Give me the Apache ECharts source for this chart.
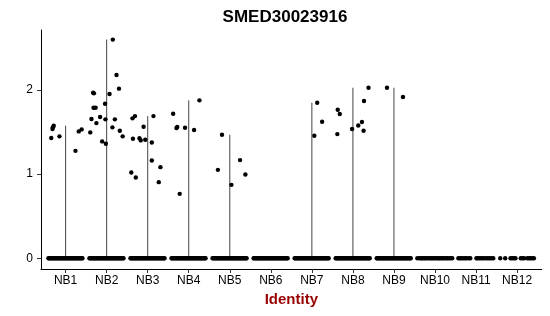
<!DOCTYPE html>
<html>
<head>
<meta charset="utf-8">
<script src="https://cdn.jsdelivr.net/npm/echarts@6/dist/echarts.min.js"></script>
<style>html,body{margin:0;padding:0;background:#fff}#c{width:550px;height:316px}</style>
</head>
<body>
<div id="c"></div>
<script>
const chartTitle = 'SMED30023916';
const xAxisTitle = 'Identity';
const categories = ['NB1','NB2','NB3','NB4','NB5','NB6','NB7','NB8','NB9','NB10','NB11','NB12'];
const yTicks = [0, 1, 2];

// non-zero expression values and their horizontal jitter (in category units) per group
const exprNB1 = [1.43, 1.536, 1.556, 1.575, 1.449, 1.277, 1.508, 1.532];
const jitNB1  = [-0.35, -0.32, -0.31, -0.29, -0.15, 0.24, 0.32, 0.39];
const exprNB2 = [1.496, 1.655, 1.968, 1.96, 1.79, 1.79, 1.607, 1.679, 1.389, 1.837, 1.651, 1.361, 1.952, 1.556, 2.599, 1.651, 2.179, 2.016, 1.516, 1.449];
const jitNB2  = [-0.40, -0.37, -0.33, -0.31, -0.32, -0.27, -0.25, -0.16, -0.11, -0.04, -0.03, -0.02, 0.07, 0.14, 0.15, 0.20, 0.24, 0.30, 0.32, 0.39];
const exprNB3 = [1.02, 1.663, 1.42, 1.69, 0.96, 1.428, 1.401, 1.563, 1.409, 1.377, 1.69, 1.163, 1.083, 0.905];
const jitNB3  = [-0.40, -0.37, -0.36, -0.31, -0.29, -0.20, -0.17, -0.10, -0.06, 0.10, 0.14, 0.10, 0.31, 0.27];
const exprNB4 = [1.718, 1.548, 1.56, 0.766, 1.552, 1.524, 1.877];
const jitNB4  = [-0.38, -0.30, -0.28, -0.22, -0.09, 0.13, 0.26];
const exprNB5 = [1.468, 1.051, 0.873, 1.167, 0.996];
const jitNB5  = [-0.19, -0.29, 0.04, 0.25, 0.38];
const exprNB6 = [];
const jitNB6  = [];
const exprNB7 = [1.456, 1.849, 1.623];
const jitNB7  = [0.06, 0.13, 0.25];
const exprNB8 = [1.476, 1.766, 1.714, 1.536, 1.579, 1.619, 1.516, 1.869, 2.027];
const jitNB8  = [-0.38, -0.37, -0.32, -0.02, 0.13, 0.22, 0.26, 0.27, 0.38];
const exprNB9 = [2.027, 1.917];
const jitNB9  = [-0.17, 0.22];
const exprNB10 = [];
const jitNB10  = [];
const exprNB11 = [];
const jitNB11  = [];
const exprNB12 = [];
const jitNB12  = [];

// jitter positions of the zero-valued cells per group
const zeroDense = [-0.42,-0.40,-0.38,-0.355,-0.33,-0.31,-0.285,-0.26,-0.24,-0.215,-0.19,-0.17,-0.145,-0.12,-0.10,-0.075,-0.05,-0.03,-0.005,0.02,0.04,0.065,0.09,0.11,0.135,0.16,0.18,0.205,0.23,0.25,0.275,0.30,0.32,0.345,0.37,0.39,0.41];
const zeroNB10 = [-0.43,-0.38,-0.34,-0.31,-0.27,-0.24,-0.20,-0.16,-0.12,-0.09,-0.05,-0.02,0.02,0.06,0.09,0.12,0.16,0.19,0.23,0.27,0.30,0.34,0.38,0.42];
const zeroNB11 = [-0.43,-0.39,-0.35,-0.31,-0.27,-0.23,-0.18,-0.14,0.01,0.04,0.08,0.12,0.16,0.20,0.25,0.29,0.33,0.37,0.42];
const zeroNB12 = [-0.41,-0.29,-0.16,-0.12,-0.08,-0.04,0.09,0.13,0.17,0.25,0.29,0.33,0.37,0.41];

const exprGroups = [exprNB1,exprNB2,exprNB3,exprNB4,exprNB5,exprNB6,exprNB7,exprNB8,exprNB9,exprNB10,exprNB11,exprNB12];
const jitGroups  = [jitNB1,jitNB2,jitNB3,jitNB4,jitNB5,jitNB6,jitNB7,jitNB8,jitNB9,jitNB10,jitNB11,jitNB12];
const zeroGroups = [zeroDense,zeroDense,zeroDense,zeroDense,zeroDense,zeroDense,zeroDense,zeroDense,zeroDense,zeroNB10,zeroNB11,zeroNB12];

const points = [];
const violins = [];
categories.forEach((c, i) => {
  const pos = i + 1;
  zeroGroups[i].forEach(j => points.push([pos + j, 0]));
  exprGroups[i].forEach((v, k) => points.push([pos + jitGroups[i][k], v]));
  if (exprGroups[i].length) violins.push([pos, Math.max.apply(null, exprGroups[i])]);
});
const catPos = categories.map((c, i) => i + 1);

const chart = echarts.init(document.getElementById('c'), null, {renderer: 'canvas'});
chart.setOption({
  animation: false,
  backgroundColor: '#ffffff',
  title: {
    text: chartTitle, left: 280, top: 4, textAlign: 'center',
    textStyle: {fontFamily: 'Liberation Sans, Arial', fontWeight: 'bold', fontSize: 17, color: '#000'}
  },
  grid: {left: 41, right: 8.3, top: 30, bottom: 47, containLabel: false},
  xAxis: {
    type: 'value', min: 0.4, max: 12.6,
    name: xAxisTitle, nameLocation: 'middle', nameGap: 20,
    nameTextStyle: {fontFamily: 'Liberation Sans, Arial', fontWeight: 'bold', fontSize: 15, color: '#990000'},
    axisLine: {show: true, onZero: false, lineStyle: {color: '#000', width: 1}},
    axisTick: {show: true, length: 4, customValues: catPos, lineStyle: {color: '#333'}},
    axisLabel: {customValues: catPos, margin: 6, fontFamily: 'Liberation Sans, Arial', fontSize: 12, color: '#000',
      formatter: v => categories[Math.round(v) - 1] || ''},
    splitLine: {show: false}
  },
  yAxis: {
    type: 'value', min: -0.127, max: 2.713,
    axisLine: {show: true, onZero: false, lineStyle: {color: '#000', width: 1}},
    axisTick: {show: true, length: 4, customValues: yTicks, lineStyle: {color: '#333'}},
    axisLabel: {customValues: yTicks, margin: 8, fontFamily: 'Liberation Sans, Arial', fontSize: 12, color: '#000'},
    splitLine: {show: false}
  },
  series: [
    {
      type: 'custom',
      data: violins,
      renderItem: (params, api) => {
        const p0 = api.coord([api.value(0), 0]);
        const p1 = api.coord([api.value(0), api.value(1)]);
        return {type: 'line', shape: {x1: p0[0], y1: p0[1], x2: p1[0], y2: p1[1]},
          style: {stroke: '#444', lineWidth: 1}};
      },
      z: 1
    },
    {
      type: 'scatter', data: points, symbol: 'circle', symbolSize: 4.4,
      itemStyle: {color: '#000', opacity: 1}, z: 2, silent: true
    }
  ]
});
</script>
</body>
</html>
